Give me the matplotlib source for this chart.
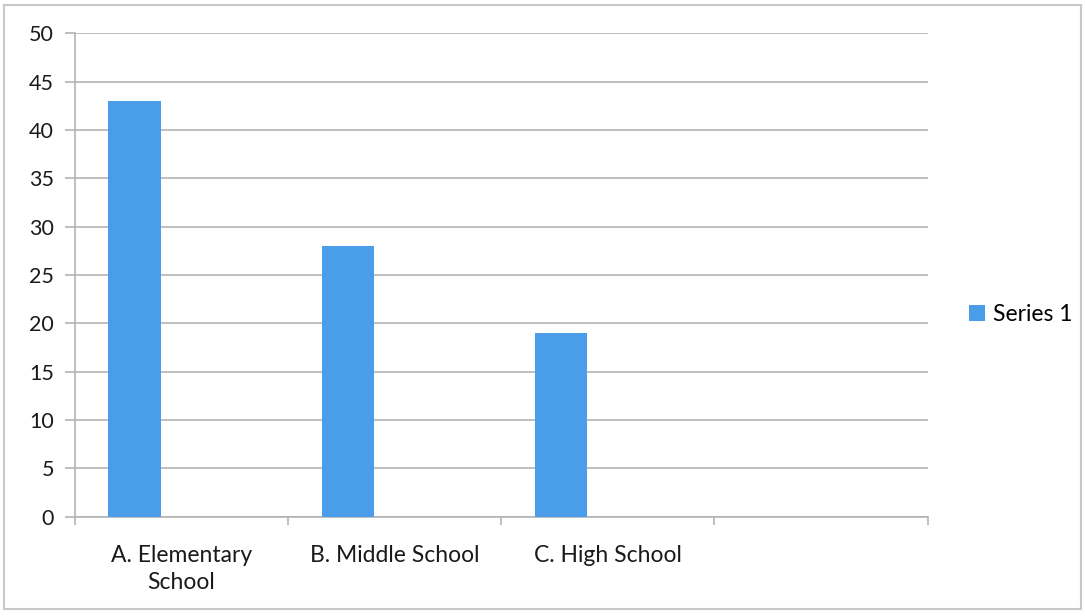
import numpy as np
import matplotlib
matplotlib.use("Agg")
import matplotlib.pyplot as plt
from matplotlib.patches import Rectangle

plt.rcParams['font.family'] = ['Lato', 'DejaVu Sans']

categories = ["A. Elementary\nSchool", "B. Middle School", "C. High School", ""]
series1 = [43, 28, 19]
series_name = "Series 1"
yticks = [0, 5, 10, 15, 20, 25, 30, 35, 40, 45, 50]

bar_color = '#4a9de8'
grid_color = '#b4b4b4'

fig = plt.figure(figsize=(10.85, 6.16), dpi=100)
ax = fig.add_axes([0.069, 0.161, 0.786, 0.785])

x = np.arange(len(series1))
ax.bar(x - 0.22, series1, width=0.245, color=bar_color, label=series_name, zorder=3)

ax.set_xlim(-0.5, len(categories) - 0.5)
ax.set_ylim(0, 50)
ax.set_yticks(yticks)
ax.yaxis.grid(True, color=grid_color, lw=1.2, zorder=0)

# category labels centered, ticks on category boundaries
ax.set_xticks(np.arange(len(categories)))
ax.set_xticklabels(categories, fontsize=16.5, color='#1a1a1a', linespacing=1.35)
ax.tick_params(axis='x', length=0, pad=20)
ax.set_xticks(np.arange(len(categories) + 1) - 0.5, minor=True)
ax.tick_params(axis='x', which='minor', length=6, color=grid_color, width=1.2)
ax.tick_params(axis='y', length=7, color=grid_color, width=1.2, labelsize=15.5,
               labelcolor='#1a1a1a', pad=8)

for s in ['top', 'right']:
    ax.spines[s].set_visible(False)
for s in ['left', 'bottom']:
    ax.spines[s].set_color(grid_color)
    ax.spines[s].set_linewidth(1.2)

fig.legend(loc='center left', bbox_to_anchor=(0.874, 0.49), frameon=False,
           fontsize=16.5, handlelength=0.7, handleheight=0.7, handletextpad=0.35)

fig.patches.append(Rectangle((0.004, 0.012), 0.992, 0.98, transform=fig.transFigure,
                             fill=False, edgecolor='#c8c8c8', lw=1.5))

fig.savefig("out.png", dpi=100)
